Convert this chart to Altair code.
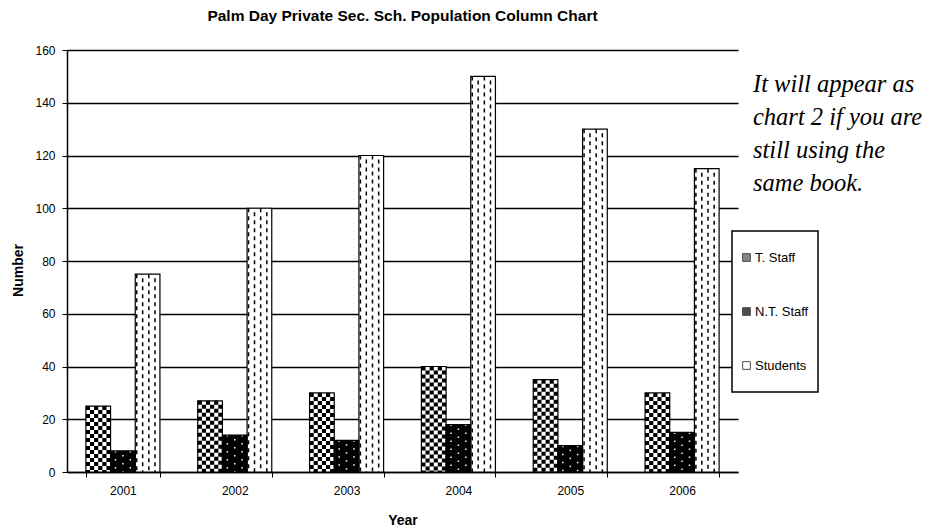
import altair as alt
import pandas as pd

years = ["2001", "2002", "2003", "2004", "2005", "2006"]
series_names = ["T. Staff", "N.T. Staff", "Students"]
t_staff = [25, 27, 30, 40, 35, 30]
nt_staff = [8, 14, 12, 18, 10, 15]
students = [75, 100, 120, 150, 130, 115]
note_lines = ["It will appear as", "chart 2 if you are", "still using the", "same book."]

rows = []
for s, vals in zip(series_names, [t_staff, nt_staff, students]):
    for y, v in zip(years, vals):
        rows.append({"year": y, "series": s, "value": v})
df = pd.DataFrame(rows)

FONT = "Liberation Sans"
W, H = 671, 422

x_enc = alt.X("year:N", sort=years,
              scale=alt.Scale(paddingInner=0.338, paddingOuter=0.169),
              axis=alt.Axis(title="Year", labelFontSize=12, labelColor="black",
                            labelPadding=8, tickSize=5, tickColor="black", tickBand="extent",
                            domainColor="black", domainWidth=1.5, tickWidth=1,
                            labelAngle=0, titleFontSize=14, titleFontWeight="bold",
                            titleColor="black", titleX=W / 2, titleY=48,
                            titleBaseline="middle", grid=False))
xoff = alt.XOffset("series:N", sort=series_names, scale=alt.Scale(domain=series_names))
y_enc = alt.Y("value:Q", scale=alt.Scale(domain=[0, 160], nice=False),
              axis=alt.Axis(title="Number", values=list(range(0, 161, 20)),
                            labelFontSize=12, labelColor="black", labelPadding=7,
                            tickSize=5, tickColor="black", domainColor="black",
                            domainWidth=1.5, grid=True, gridColor="black", gridWidth=1.5,
                            titleFontSize=14, titleFontWeight="bold", titleColor="black",
                            titleX=-49, titleY=220, titleBaseline="middle"))

base = alt.Chart(df)

bars = base.mark_bar(stroke=None).encode(
    x=x_enc, xOffset=xoff, y=y_enc,
    fill=alt.condition(alt.datum.series == "N.T. Staff", alt.value("black"), alt.value("white")),
)

layers = [bars]


def pattern_layer(series_idx, frac, color, width, dash):
    p = (series_idx + frac) / 3.0
    return (base.transform_filter(alt.datum.series == series_names[series_idx])
            .mark_rule(color=color, strokeWidth=width, strokeDash=dash)
            .encode(x=alt.X("year:N", sort=years, bandPosition=p),
                    y=alt.Y("value:Q"), y2=alt.datum(0)))


# checkerboard for T. Staff
for k in range(6):
    dash = [4, 4] if k % 2 == 0 else [0, 4, 4, 0]
    layers.append(pattern_layer(0, (k + 0.5) / 6, "black", 4.2, dash))
# dots for N.T. Staff
for k, frac in enumerate([0.2, 0.5, 0.8]):
    dash = [1.5, 6.5] if k % 2 == 0 else [0, 4, 1.5, 2.5]
    layers.append(pattern_layer(1, frac, "white", 1.5, dash))
# dashes for Students
for k, frac in enumerate([0.06, 0.30, 0.55, 0.80]):
    dash = [4, 4] if k % 2 == 0 else [0, 4, 4, 0]
    layers.append(pattern_layer(2, frac, "black", 1.5, dash))

outline = base.mark_bar(fillOpacity=0, stroke="black", strokeWidth=1.2).encode(
    x=alt.X("year:N", sort=years), xOffset=xoff, y=alt.Y("value:Q"))
layers.append(outline)

box = alt.Chart(pd.DataFrame({"k": [0]})).mark_rect(
    fill="white", stroke="black", strokeWidth=1.5).encode(
    x=alt.value(665), x2=alt.value(751), y=alt.value(181), y2=alt.value(342))
layers.append(box)

legend_layer = base.transform_filter("false").mark_square(stroke="black").encode(
    fill=alt.Fill("series:N", scale=alt.Scale(domain=series_names,
                                              range=["#555555", "black", "white"]),
                  legend=alt.Legend(title=None, orient="none", legendX=673, legendY=201,
                                    rowPadding=40, symbolType="square", symbolSize=60,
                                    symbolStrokeColor="black", symbolStrokeWidth=1,
                                    labelFont=FONT, labelFontSize=13, labelColor="black",
                                    labelOffset=2)))
layers.append(legend_layer)

note = alt.Chart(pd.DataFrame({"k": [0]})).mark_text(
    align="left", baseline="middle", font="Liberation Serif", fontStyle="italic",
    fontSize=24.5, lineHeight=33, color="black").encode(
    x=alt.value(686), y=alt.value(35), text=alt.value(note_lines))
layers.append(note)

chart = alt.layer(*layers).properties(
    width=W, height=H,
    title=alt.Title("Palm Day Private Sec. Sch. Population Column Chart",
                    fontSize=15.5, fontWeight="bold", font=FONT, color="black", offset=20),
    autosize=alt.AutoSizeParams(type="none"),
    padding={"left": 59, "top": 42, "right": 189, "bottom": 55},
).configure_view(stroke=None).configure_axis(labelFont=FONT, titleFont=FONT)

chart.save("out.html", embed_options={"renderer": "svg", "actions": False})
